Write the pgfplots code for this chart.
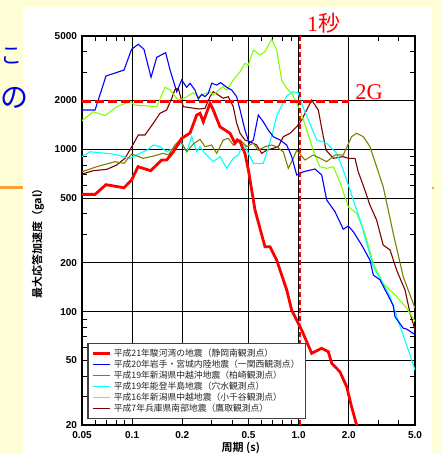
\documentclass[border=0pt]{standalone}
\usepackage{pgfplots}
\pgfplotsset{compat=1.18}
\usepackage{fontspec}
\setmainfont{Liberation Sans}
\newfontfamily\jp{Noto Sans CJK JP}[BoldFont={Noto Sans CJK JP Bold}]
\newfontfamily\serif{Liberation Serif}
\definecolor{bgyellow}{RGB}{255,255,215}
\definecolor{cred}{RGB}{255,0,0}
\definecolor{cblue}{RGB}{0,0,255}
\definecolor{colive}{RGB}{128,128,0}
\definecolor{ccyan}{RGB}{0,255,255}
\definecolor{cgreen}{RGB}{128,255,0}
\definecolor{cmaroon}{RGB}{128,0,0}
\definecolor{slideblue}{RGB}{0,0,235}
\definecolor{slideorange}{RGB}{255,160,60}
\begin{document}
\begin{tikzpicture}
\useasboundingbox (0pt,0pt) rectangle (441pt,454pt);
\clip (0pt,0pt) rectangle (441pt,454pt);
\fill[bgyellow] (0pt,0pt) rectangle (441pt,454pt);
\fill[white] (23pt,0pt) rectangle (432pt,447pt);
\draw[slideorange, line width=3pt] (0pt,266pt) -- (23pt,266pt);
\draw[slideorange, line width=2pt] (432pt,266pt) -- (434pt,266pt);
\node[slideblue, font=\jp\fontsize{28}{30}\selectfont, inner sep=0pt] at (14pt,356pt) {の};
\node[slideblue, font=\jp\fontsize{22}{24}\selectfont, inner sep=0pt] at (12pt,398pt) {こ};
\begin{axis}[
  at={(82pt,29pt)}, anchor=south west,
  scale only axis, width=333pt, height=389pt,
  xmode=log, ymode=log,
  xmin=0.05, xmax=5, ymin=20, ymax=5000,
  xtick={0.05,0.1,0.2,0.5,1,2,5},
  xticklabels={0.05,0.1,0.2,0.5,1.0,2.0,5.0},
  ytick={20,50,100,200,500,1000,2000,5000},
  yticklabels={20,50,100,200,500,1000,2000,5000},
  minor xtick={0.06,0.07,0.08,0.09,0.3,0.4,0.6,0.7,0.8,0.9,3,4},
  minor ytick={30,40,60,70,80,90,300,400,600,700,800,900,3000,4000},
  grid=major,
  major grid style={black, line width=0.9pt},
  major tick length=0pt,
  minor tick length=5pt,
  tick align=inside,
  minor tick style={black, line width=0.9pt},
  axis line style={black, line width=1.3pt},
  tick label style={font=\bfseries\fontsize{10}{12}\selectfont},
  xticklabel style={yshift=-3pt},
  yticklabel style={xshift=-1.5pt},
  xlabel={\jp\bfseries 周期 (s)},
  ylabel={\jp\bfseries 最大応答加速度（gal）},
  xlabel style={at={(axis description cs:0.477,-0.06)}, anchor=center, font=\fontsize{11}{13}\selectfont},
  ylabel style={at={(axis description cs:-0.132,0.473)}, anchor=center, font=\fontsize{11}{13}\selectfont},
  reverse legend,
  legend cell align=left,
  legend style={at={(axis description cs:0.016,0.2108)}, anchor=north west,
    draw=black!75, line width=1.2pt, fill=white,
    font=\jp\fontsize{8.8}{10}\selectfont, text=black!85,
    inner xsep=4pt, inner ysep=4pt, row sep=0pt,
    nodes={inner xsep=2pt, inner ysep=0pt, text height=8.6pt, text depth=2.5pt}},
]
% maroon
\addplot[cmaroon, line width=1.1pt] coordinates {
(0.05,705) (0.0584,739) (0.0703,753) (0.0808,801) (0.0906,881) (0.0993,1034) (0.1089,1226) (0.1194,1226) (0.134,1448) (0.147,1669) (0.1613,1749) (0.1729,2065) (0.181,2345) (0.1893,2380) (0.203,1833) (0.253,1774) (0.274,1791) (0.2937,2112) (0.3073,2267) (0.3293,2164) (0.353,2065) (0.378,2112) (0.405,1833) (0.4246,1448) (0.445,1257) (0.476,1143) (0.51,1115) (0.56,1064) (0.6,945) (0.643,987) (0.755,1039) (0.809,1197) (0.888,1257) (0.974,1379) (1.043,1518) (1.118,1749) (1.198,2015) (1.313,1749) (1.376,1349) (1.46,991) (1.615,881) (1.855,902) (1.988,881) (2.18,881) (2.28,728) (2.5,562) (2.68,454) (2.94,367) (3.22,257) (3.54,240) (3.88,180) (4.355,136) (4.67,97.6) (5,77)
};
\addlegendentry{平成7年兵庫県南部地震（鷹取観測点）}
% green
\addplot[cgreen, line width=1.1pt] coordinates {
(0.05,1503) (0.0584,1707) (0.0687,1613) (0.0808,1833) (0.0971,1968) (0.104,1875) (0.1405,1833) (0.1576,2414) (0.169,2323) (0.1853,2065) (0.194,2015) (0.2127,2112) (0.233,2236) (0.2497,2112) (0.27,2195) (0.2937,2267) (0.3073,2164) (0.3293,2323) (0.35,2434) (0.37,2323) (0.405,2678) (0.445,3013) (0.476,3393) (0.4993,3314) (0.535,4100) (0.586,3818) (0.628,4001) (0.689,4770) (0.738,4100) (0.791,2678) (0.848,2380) (0.909,2216) (1.021,1749) (1.118,1317) (1.225,985) (1.34,782) (1.4745,764) (1.615,782) (1.77,629) (1.988,443) (2.23,403) (2.5,304) (2.81,198) (3.22,149) (3.88,124) (4.46,105) (5,87)
};
\addlegendentry{平成16年新潟県中越地震（小千谷観測点）}
% cyan
\addplot[ccyan, line width=1.1pt] coordinates {
(0.05,902) (0.0558,967) (0.0768,936) (0.0971,881) (0.1089,936) (0.1223,987) (0.134,1064) (0.147,1039) (0.1613,967) (0.1853,1039) (0.1985,1091) (0.2127,967) (0.228,1197) (0.2443,967) (0.2557,1039) (0.274,945) (0.3073,840) (0.337,902) (0.37,764) (0.405,881) (0.434,923) (0.465,1091) (0.535,820) (0.6135,820) (0.6456,964) (0.692,1226) (0.742,1629) (0.848,2133) (0.925,2267) (0.994,2226) (1.067,1800) (1.284,1143) (1.4745,1091) (1.693,945) (1.855,746) (2.035,562) (2.23,423) (2.34,367) (2.81,189) (3.54,124) (4.07,81) (4.56,58) (5,43.6)
};
\addlegendentry{平成19年能登半島地震（穴水観測点）}
% olive
\addplot[colive, line width=1.1pt] coordinates {
(0.05,728) (0.0613,782) (0.0789,840) (0.0894,820) (0.0993,936) (0.1167,881) (0.134,910) (0.1539,945) (0.165,923) (0.181,1064) (0.194,1143) (0.2127,967) (0.233,1079) (0.2557,1153) (0.274,1039) (0.3005,1064) (0.322,945) (0.353,1143) (0.378,1170) (0.405,1064) (0.445,1143) (0.4877,1039) (0.535,1091) (0.5727,987) (0.628,1039) (0.689,1064) (0.738,1039) (0.809,967) (0.867,764) (0.929,881) (0.974,987) (1.092,860) (1.225,923) (1.4745,840) (1.654,923) (1.855,923) (2.08,1197) (2.23,1257) (2.45,1197) (2.68,1039) (2.94,782) (3.22,589) (3.7,304) (4.25,164) (5,105)
};
\addlegendentry{平成19年新潟県中越沖地震（柏崎観測点）}
% blue
\addplot[cblue, line width=1.1pt] coordinates {
(0.05,1749) (0.0599,1749) (0.0697,2834) (0.0894,3085) (0.0993,4141) (0.1089,4445) (0.1178,4141) (0.1299,2782) (0.1405,3694) (0.159,3944) (0.169,3085) (0.1853,2267) (0.1985,2678) (0.2127,2414) (0.2227,2555) (0.2385,2323) (0.2497,2044) (0.2617,2185) (0.274,2112) (0.2867,2216) (0.3005,2555) (0.322,2494) (0.3405,2577) (0.37,2414) (0.396,2323) (0.4246,2112) (0.445,1749) (0.476,1317) (0.5055,1091) (0.535,1143) (0.5727,1629) (0.6135,1480) (0.657,1317) (0.7045,1197) (0.773,1143) (0.848,1064) (0.909,902) (0.974,695) (1.067,728) (1.254,757) (1.376,695) (1.4745,487) (1.654,413) (1.855,322) (1.988,337) (2.13,311) (2.393,257) (2.68,208) (2.81,168) (3.08,157) (3.7,109) (3.79,93) (4.25,79) (4.46,78) (5,72)
};
\addlegendentry{平成20年岩手・宮城内陸地震（一関西観測点）}
% red
\addplot[cred, line width=2.8pt] coordinates {
(0.05,528) (0.0599,528) (0.0697,606) (0.0894,580) (0.0993,647) (0.1085,782) (0.1293,739) (0.1505,860) (0.1613,860) (0.1767,966) (0.1985,1170) (0.2227,1261) (0.2443,1629) (0.2557,1669) (0.2676,1480) (0.2937,1924) (0.3073,1749) (0.337,1379) (0.387,1257) (0.4148,1091) (0.428,1143) (0.445,1115) (0.476,945) (0.4993,746) (0.547,423) (0.628,251) (0.673,251) (0.738,208) (0.848,136) (0.909,102) (1.043,77) (1.198,55.3) (1.376,59.4) (1.508,56.6) (1.58,48) (1.77,42.6) (1.945,34.4) (2.08,25.9) (2.23,20) (2.6,17) (5,17)
};
\addlegendentry{平成21年駿河湾の地震（静岡南観測点）}
% reference lines
\addplot[cred, line width=2.4pt, dash pattern=on 9pt off 4pt, forget plot] coordinates {(0.05,1975) (2,1975)};
\addplot[cred, line width=1.6pt, dash pattern=on 5pt off 3pt, forget plot] coordinates {(1.02,20) (1.02,5000)};
\end{axis}
\node[cred, inner sep=0pt, font=\fontsize{22}{24}\selectfont] at (323.5pt,431pt) {\serif 1\jp 秒};
\node[cred, inner sep=0pt, font=\serif\fontsize{22.5}{24}\selectfont] at (369pt,361.5pt) {2G};
\end{tikzpicture}
\end{document}
